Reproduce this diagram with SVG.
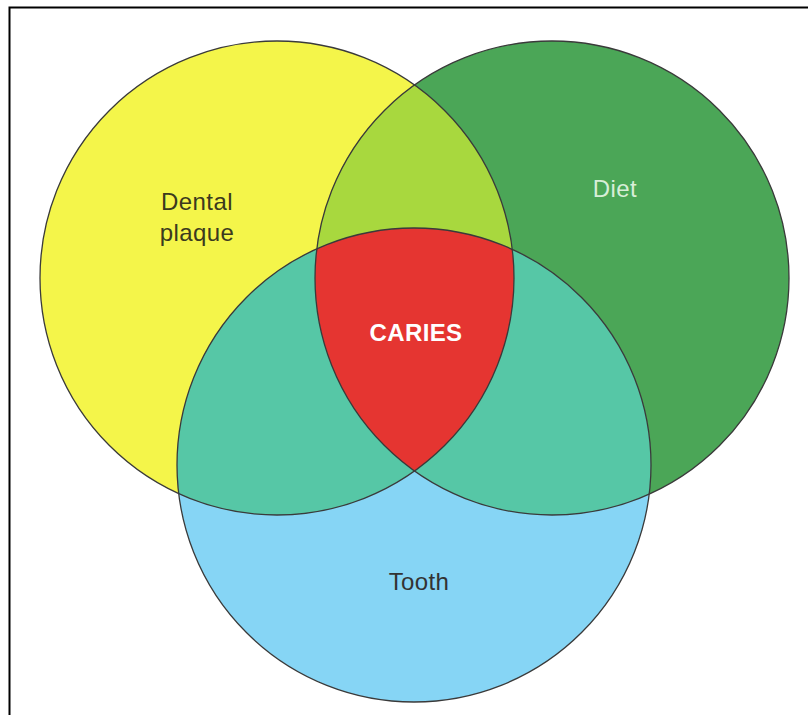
<svg xmlns="http://www.w3.org/2000/svg" width="808" height="715" viewBox="0 0 808 715">
  <style>
    .lbl { font-family: "Liberation Sans", Arial, sans-serif; font-size: 24px; text-anchor: middle; letter-spacing: 0.4px; }
    .edge { fill: none; stroke: #3a3a3a; stroke-width: 1.3; }
  </style>
  <defs>
    <circle id="cY" cx="277" cy="278" r="237"/>
    <circle id="cG" cx="552" cy="278" r="237"/>
    <circle id="cB" cx="414" cy="465" r="237"/>
    <clipPath id="clipY"><use href="#cY"/></clipPath>
    <clipPath id="clipG"><use href="#cG"/></clipPath>
  </defs>
  <rect x="0" y="0" width="808" height="715" fill="#ffffff"/>
  <rect x="9.5" y="7.5" width="820" height="730" fill="none" stroke="#000000" stroke-width="2"/>

  <g id="dental-plaque">
    <use href="#cY" fill="#f4f54a"/>
  </g>
  <g id="diet">
    <use href="#cG" fill="#4ba657"/>
  </g>
  <g id="tooth">
    <use href="#cB" fill="#86d5f5"/>
  </g>
  <g id="overlaps">
    <use href="#cG" fill="#a8d83e" clip-path="url(#clipY)"/>
    <use href="#cB" fill="#56c7a6" clip-path="url(#clipY)"/>
    <use href="#cB" fill="#56c7a6" clip-path="url(#clipG)"/>
  </g>
  <g id="caries">
    <g clip-path="url(#clipG)">
      <use href="#cB" fill="#e53531" clip-path="url(#clipY)"/>
    </g>
  </g>
  <g id="outlines">
    <use href="#cY" class="edge"/>
    <use href="#cG" class="edge"/>
    <use href="#cB" class="edge"/>
  </g>
  <g id="labels">
    <text class="lbl" x="197" y="210" fill="#3b3a1e">Dental</text>
    <text class="lbl" x="197" y="241" fill="#3b3a1e">plaque</text>
    <text class="lbl" x="615" y="197" fill="#d8eed8">Diet</text>
    <text class="lbl" x="416" y="341" fill="#ffffff" font-weight="bold">CARIES</text>
    <text class="lbl" x="419" y="590" fill="#333333">Tooth</text>
  </g>
</svg>
